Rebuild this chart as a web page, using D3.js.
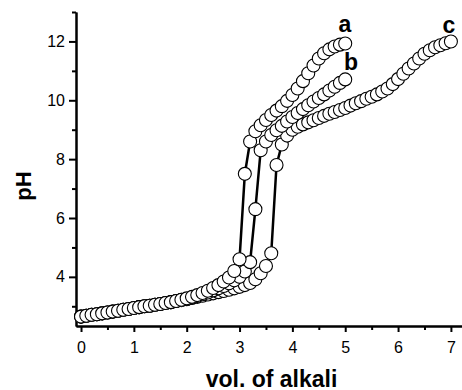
<!DOCTYPE html>
<html><head><meta charset="utf-8">
<script src="https://cdn.jsdelivr.net/npm/d3@7"></script>
<style>
html,body{margin:0;padding:0;background:#fff;}
svg{display:block;font-family:"Liberation Sans",Arial,Helvetica,sans-serif;}
</style></head>
<body>
<svg id="chart" width="462" height="390"></svg>
<script>
// volume of alkali (shared x values)
const volumes = [0.0,0.1,0.2,0.3,0.4,0.5,0.6,0.7,0.8,0.9,
  1.0,1.1,1.2,1.3,1.4,1.5,1.6,1.7,1.8,1.9,
  2.0,2.1,2.2,2.3,2.4,2.5,2.6,2.7,2.8,2.9,
  3.0,3.1,3.2,3.3,3.4,3.5,3.6,3.7,3.8,3.9,
  4.0,4.1,4.2,4.3,4.4,4.5,4.6,4.7,4.8,4.9,
  5.0,5.1,5.2,5.3,5.4,5.5,5.6,5.7,5.8,5.9,
  6.0,6.1,6.2,6.3,6.4,6.5,6.6,6.7,6.8,6.9,7.0];

const pHa = [2.65,2.68,2.71,2.73,2.76,2.79,2.82,2.85,2.88,2.91,
  2.94,2.97,3.00,3.02,3.05,3.08,3.11,3.14,3.18,3.22,
  3.27,3.32,3.38,3.45,3.53,3.62,3.72,3.84,3.98,4.20,
  4.60,7.50,8.60,8.95,9.15,9.33,9.50,9.65,9.80,9.98,
  10.18,10.40,10.65,10.92,11.18,11.42,11.60,11.73,11.83,11.89,11.93];

const pHb = [2.65,2.68,2.71,2.73,2.76,2.79,2.82,2.85,2.88,2.91,
  2.94,2.97,3.00,3.02,3.05,3.08,3.11,3.14,3.18,3.22,
  3.25,3.30,3.35,3.41,3.47,3.54,3.61,3.69,3.78,3.88,
  4.00,4.18,4.50,6.30,8.30,8.60,8.82,8.98,9.13,9.28,
  9.43,9.57,9.70,9.83,9.96,10.08,10.20,10.33,10.46,10.59,10.71];

const pHc = [2.65,2.68,2.71,2.73,2.76,2.79,2.82,2.85,2.88,2.91,
  2.94,2.97,3.00,3.02,3.05,3.08,3.11,3.14,3.18,3.21,
  3.24,3.28,3.32,3.36,3.40,3.44,3.48,3.52,3.56,3.61,
  3.66,3.72,3.79,3.92,4.12,4.37,4.80,7.80,8.50,8.80,
  9.00,9.10,9.18,9.25,9.32,9.40,9.47,9.54,9.60,9.67,
  9.74,9.82,9.90,9.97,10.05,10.12,10.20,10.30,10.40,10.55,
  10.72,10.90,11.08,11.25,11.42,11.58,11.70,11.80,11.87,11.94,12.00];

const seriesNames = ["a","b","c"];
const xTicks = [0,1,2,3,4,5,6,7];
const xMinor = [0.5,1.5,2.5,3.5,4.5,5.5,6.5];
const yTicks = [4,6,8,10,12];
const yMinor = [3,5,7,9,11,13];

const series = [
  {name:"a", pts: pHa.map((p,i)=>[volumes[i],p])},
  {name:"b", pts: pHb.map((p,i)=>[volumes[i],p])},
  {name:"c", pts: pHc.map((p,i)=>[volumes[i],p])}
];

const svg = d3.select("#chart");
const x = d3.scaleLinear().domain([-0.095,7.21]).range([76,462]);
const y = d3.scaleLinear().domain([2.33,13.0]).range([326,12]);

// axes
const gx = svg.append("g").attr("transform","translate(0,326)")
  .call(d3.axisBottom(x).tickValues(xTicks).tickFormat(d3.format("d")).tickSize(6).tickSizeOuter(0).tickPadding(10));
const gxm = svg.append("g").attr("transform","translate(0,326)")
  .call(d3.axisBottom(x).tickValues(xMinor).tickFormat("").tickSize(4).tickSizeOuter(0));
const gy = svg.append("g").attr("transform","translate(76,0)")
  .call(d3.axisLeft(y).tickValues(yTicks).tickFormat(d3.format("d")).tickSize(7).tickSizeOuter(0).tickPadding(4));
const gym = svg.append("g").attr("transform","translate(76,0)")
  .call(d3.axisLeft(y).tickValues(yMinor).tickFormat("").tickSize(4).tickSizeOuter(0));
[gx,gxm,gy,gym].forEach(g=>{
  g.selectAll("path.domain").attr("stroke","#000").attr("stroke-width",2);
  g.selectAll(".tick line").attr("stroke","#000").attr("stroke-width",2);
  g.selectAll(".tick text").attr("fill","#000").style("font-size","16px")
   .style("font-family","'Liberation Sans',Arial,sans-serif");
});

// lines
const line = d3.line().x(d=>x(d[0])).y(d=>y(d[1]));
svg.append("g").selectAll("path").data(series).join("path")
  .attr("d",d=>line(d.pts)).attr("fill","none").attr("stroke","#000").attr("stroke-width",2.5);

// markers
series.slice().reverse().forEach(s=>{
  svg.append("g").selectAll("circle").data(s.pts).join("circle")
    .attr("cx",d=>x(d[0])).attr("cy",d=>y(d[1])).attr("r",6.5)
    .attr("fill","#fff").attr("stroke","#000").attr("stroke-width",1.1);
});

// series labels
const labelPos = {a:[345,32], b:[351,70], c:[449,33]};
svg.append("g").selectAll("text").data(seriesNames).join("text")
  .attr("x",d=>labelPos[d][0]).attr("y",d=>labelPos[d][1])
  .attr("text-anchor","middle").style("font-size","23px").style("font-weight","bold")
  .text(d=>d);

// axis titles
svg.append("text").attr("transform","translate(30.5,186) rotate(-90)")
  .attr("text-anchor","middle").style("font-size","22px").style("font-weight","bold").text("pH");
svg.append("text").attr("x",271.5).attr("y",386.5)
  .attr("text-anchor","middle").style("font-size","23px").style("font-weight","bold").text("vol. of alkali");
</script>
</body></html>
